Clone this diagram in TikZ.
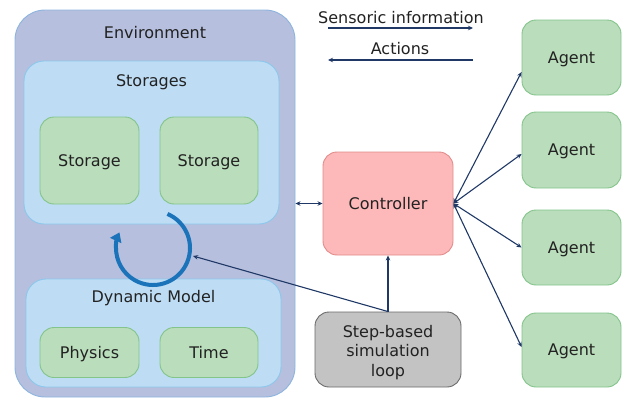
\documentclass[tikz,border=0pt]{standalone}
\usepackage{fontspec}
\setmainfont{DejaVu Sans}
\usetikzlibrary{arrows.meta}
\definecolor{envfill}{HTML}{B6BFDD}
\definecolor{envline}{HTML}{8DB4DF}
\definecolor{grpfill}{HTML}{BEDDF5}
\definecolor{grpline}{HTML}{8CC7EC}
\definecolor{itemfill}{HTML}{BADDBB}
\definecolor{itemline}{HTML}{83C48B}
\definecolor{ctrlfill}{HTML}{FDB9B9}
\definecolor{ctrlline}{HTML}{E38B8B}
\definecolor{loopfill}{HTML}{C3C3C3}
\definecolor{loopline}{HTML}{6A6A6A}
\definecolor{wire}{HTML}{1F3866}
\definecolor{cycle}{HTML}{1B73B9}
\definecolor{ink}{HTML}{222222}
\begin{document}
\begin{tikzpicture}[x=1pt,y=-1pt,
  font=\fontsize{16}{19.5}\selectfont,
  capcentred/.style={text height=11.7pt, text depth=0pt},
  box/.style={draw, rectangle, inner sep=0pt, line width=0.9pt, text=ink},
  envbox/.style={box, fill=envfill, draw=envline, rounded corners=30pt},
  grpbox/.style={box, fill=grpfill, draw=grpline, rounded corners=20pt},
  itembox/.style={box, capcentred, fill=itemfill, draw=itemline, rounded corners=14pt},
  ctrlbox/.style={box, capcentred, fill=ctrlfill, draw=ctrlline, rounded corners=14pt},
  loopbox/.style={box, fill=loopfill, draw=loopline, rounded corners=14pt},
  title/.style={inner sep=0pt, capcentred, text=ink},
  wirearrow/.style={draw=wire, line width=1.1pt, -{Stealth[length=5pt,width=4.5pt]}},
  wirebi/.style={draw=wire, line width=1.1pt, {Stealth[length=5pt,width=4.5pt]}-{Stealth[length=5pt,width=4.5pt]}},
  cyclearrow/.style={draw=cycle, line width=4pt, -{Triangle[length=9pt,width=12pt]}}
]
\useasboundingbox (0,0) rectangle (622,399);

% environment and its groups
\node[envbox, minimum width=280pt, minimum height=387pt] (env) at (155,203.5) {};
\node[title] (envtitle) at (155,33) {Environment};

\node[grpbox, minimum width=255pt, minimum height=163pt] (storages) at (151.5,142.5) {};
\node[title] (stotitle) at (151.5,81) {Storages};
\node[itembox, minimum width=99pt, minimum height=87pt] (sto1) at (89.5,160.5) {Storage};
\node[itembox, minimum width=98pt, minimum height=87pt] (sto2) at (209,160.5) {Storage};

\node[grpbox, minimum width=255pt, minimum height=108pt] (dyn) at (153.5,333) {};
\node[title] (dyntitle) at (153.5,297) {Dynamic Model};
\node[itembox, minimum width=99pt, minimum height=50pt] (phys) at (89.5,352.5) {Physics};
\node[itembox, minimum width=98pt, minimum height=50pt] (time) at (209,352.5) {Time};

% update cycle between model and storages
\draw[cyclearrow] (153,248) ++(-67:37) arc[start angle=-67, end angle=205, radius=37];
\coordinate (cyclein) at (193,256);

% controller, loop and agents
\node[ctrlbox, minimum width=130pt, minimum height=103pt] (ctrl) at (388,203.5) {Controller};
\node[loopbox, minimum width=146pt, minimum height=75pt] (loop) at (388,349.5) {};
\node[inner sep=0pt, text=ink, align=center] (looptext) at (388,352.5) {Step-based\\simulation\\loop};

\node[itembox, minimum width=99pt, minimum height=75pt] (ag1) at (571.5,57.5) {Agent};
\node[itembox, minimum width=99pt, minimum height=76pt] (ag2) at (571.5,150) {Agent};
\node[itembox, minimum width=99pt, minimum height=75pt] (ag3) at (571.5,247.5) {Agent};
\node[itembox, minimum width=99pt, minimum height=74pt] (ag4) at (571.5,350) {Agent};

% legend
\node[title] (senslabel) at (401,17.5) {Sensoric information};
\coordinate (sensa) at (328,28);
\coordinate (sensb) at (473,28);
\draw[wirearrow] (sensa) -- (sensb);
\node[title] (actlabel) at (400,48.5) {Actions};
\coordinate (acta) at (473,60);
\coordinate (actb) at (328,60);
\draw[wirearrow] (acta) -- (actb);

% connectors
\draw[wirebi] (env.east |- ctrl.west) -- (ctrl.west);
\draw[wirebi] (ctrl.east) -- ([yshift=-14.5pt]ag1.west);
\draw[wirebi] (ctrl.east) -- ([yshift=-4pt]ag2.west);
\draw[wirebi] (ctrl.east) -- (ag3.west);
\draw[wirebi] (ctrl.east) -- ([yshift=3pt]ag4.west);
\draw[wirearrow] (loop.north) -- (ctrl.south);
\draw[wirearrow] (loop.north) -- (cyclein);
\end{tikzpicture}
\end{document}
